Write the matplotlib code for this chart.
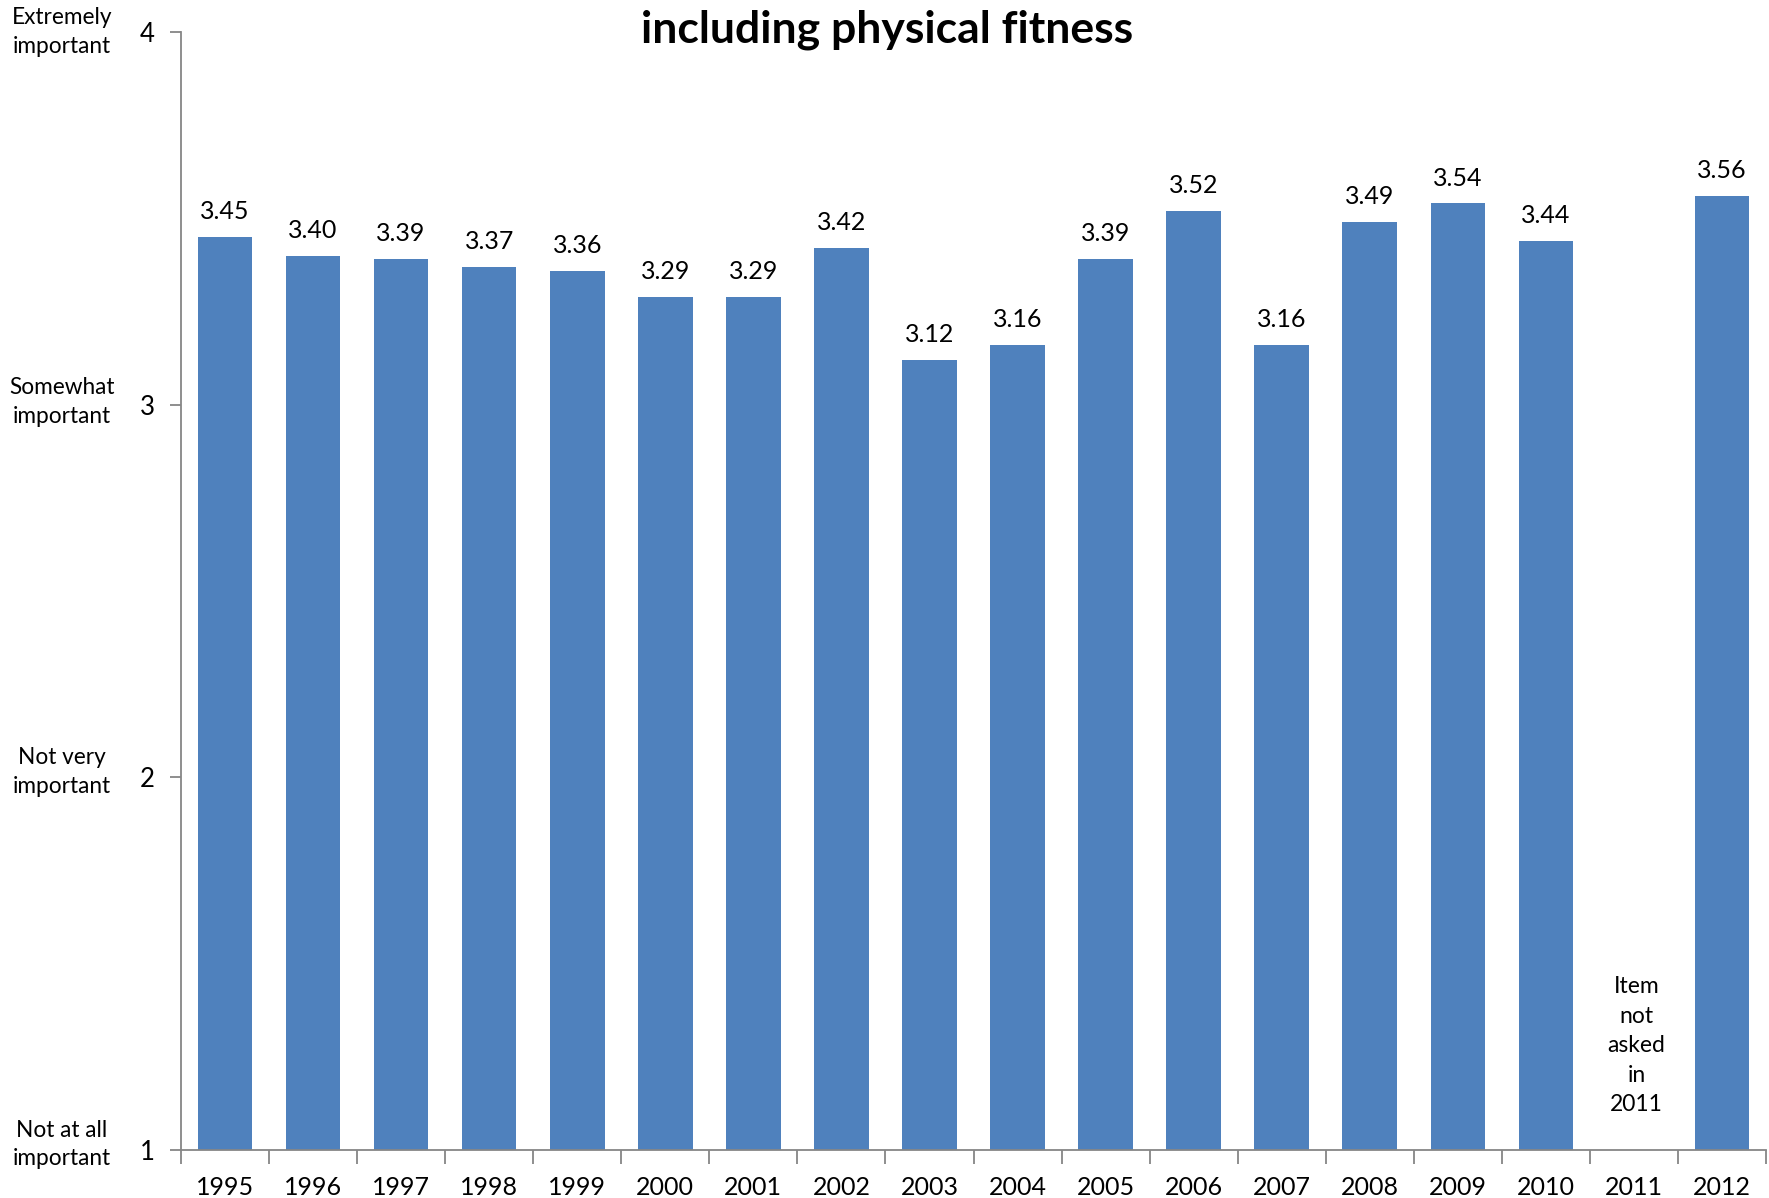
import numpy as np
import matplotlib
matplotlib.use("Agg")
import matplotlib.pyplot as plt

years = ["1995", "1996", "1997", "1998", "1999", "2000", "2001", "2002", "2003",
         "2004", "2005", "2006", "2007", "2008", "2009", "2010", "2011", "2012"]
values = [3.45, 3.40, 3.39, 3.37, 3.36, 3.29, 3.29, 3.42, 3.12,
          3.16, 3.39, 3.52, 3.16, 3.49, 3.54, 3.44, np.nan, 3.56]
yticks = [1, 2, 3, 4]
ylabels_cat = ["Not at all\nimportant", "Not very\nimportant", "Somewhat\nimportant", "Extremely\nimportant"]
title = "including physical fitness"
missing_note = "Item\nnot\nasked\nin\n2011"

plt.rcParams['font.family'] = ['Lato', 'DejaVu Sans']

W, H = 1769, 1198
fig = plt.figure(figsize=(W / 100, H / 100), dpi=100)
ax = fig.add_axes([181 / W, 1 - 1150 / H, (1766 - 181) / W, (1150 - 32) / H])

x = np.arange(len(years))
ax.bar(x, values, width=0.62, bottom=0, color="#4F81BD", zorder=2)
ax.set_xlim(-0.5, len(years) - 0.5)
ax.set_ylim(1, 4)

for xi, v in zip(x, values):
    if np.isnan(v):
        continue
    ax.annotate(f"{v:.2f}", (xi, v), xytext=(0, 10), textcoords="offset points",
                ha="center", va="bottom", fontsize=18, color="black")

i2011 = years.index("2011")
ax.text(i2011 + 0.03, 1.28, missing_note, ha="center", va="center", fontsize=16.5,
        linespacing=1.5, color="black")

# axes styling
for s in ["top", "right"]:
    ax.spines[s].set_visible(False)
for s in ["left", "bottom"]:
    ax.spines[s].set_color("#868686")
    ax.spines[s].set_linewidth(1.3)

ax.set_yticks(yticks)
ax.set_yticklabels([str(t) for t in yticks], fontsize=18.5)
ax.tick_params(axis="y", length=8, width=1.3, color="#868686", pad=11)

ax.set_xticks(x)
ax.set_xticklabels(years, fontsize=18)
ax.tick_params(axis="x", length=0, pad=19)
ax.set_xticks(np.arange(-0.5, len(years), 1), minor=True)
ax.tick_params(axis="x", which="minor", length=10, width=1.3, color="#868686")

# category labels for y ticks (small per-label vertical offsets in points)
cat_offsets = [4, 4, 2, 0]
for t, lab, off in zip(yticks, ylabels_cat, cat_offsets):
    ax.annotate(lab, xy=(0, t), xycoords=("axes fraction", "data"),
                xytext=(62 / W, off), textcoords=("figure fraction", "offset points"),
                ha="center", va="center", fontsize=16.3, linespacing=1.45)

fig.text(887 / W, 1 - 30 / H, title, ha="center", va="center", fontsize=32,
         fontweight="bold")

fig.savefig("out.png", dpi=100)
